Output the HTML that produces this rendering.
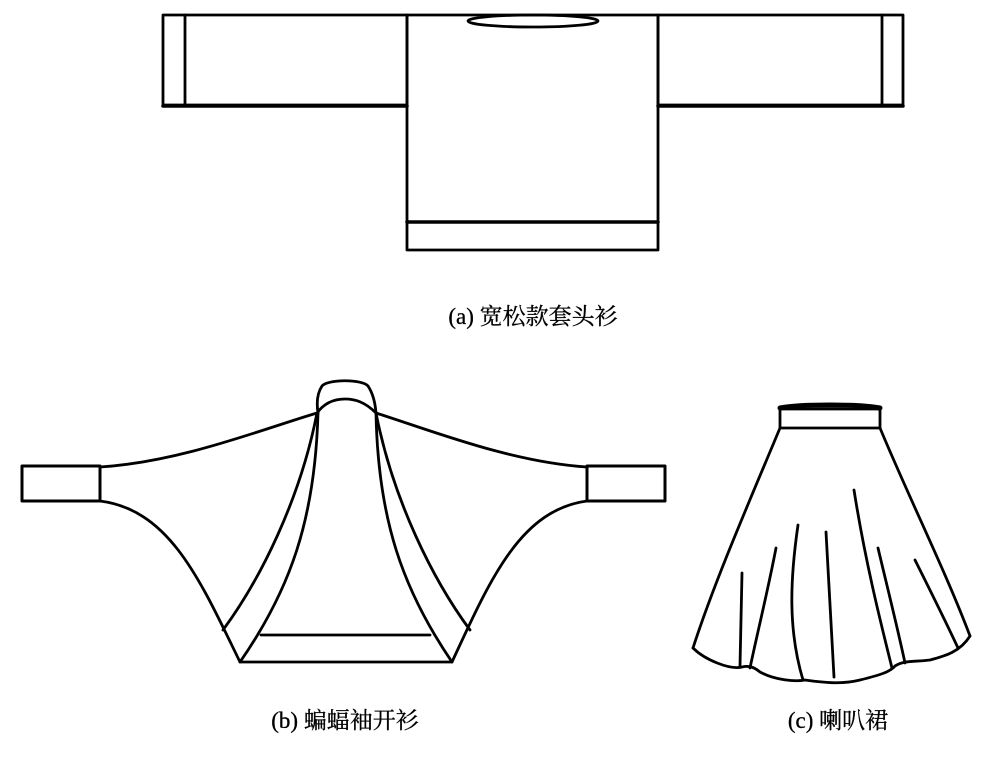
<!DOCTYPE html>
<html><head><meta charset="utf-8"><style>
html,body{margin:0;padding:0;background:#fff;}
svg{display:block}
text{font-family:"Liberation Serif","Noto Serif CJK SC",serif;font-size:23px;fill:#000;stroke:#000;stroke-width:0.3}
</style></head><body>
<svg width="1000" height="758" viewBox="0 0 1000 758" fill="none" stroke="#000" stroke-width="2.8" stroke-linejoin="round" stroke-linecap="round">
<!-- (a) pullover -->
<rect x="163" y="15" width="244" height="90"/>
<line x1="185" y1="15" x2="185" y2="105"/>
<rect x="407" y="15" width="251" height="235"/>
<line x1="407" y1="222" x2="658" y2="222" stroke-width="3.5"/>
<rect x="658" y="15" width="245" height="90"/>
<line x1="882" y1="15" x2="882" y2="105"/>
<line x1="163" y1="106" x2="407" y2="106" stroke-width="3.5"/>
<line x1="658" y1="106" x2="903" y2="106" stroke-width="3.5"/>
<ellipse cx="533" cy="21" rx="65" ry="6"/>
<text x="533" y="324" text-anchor="middle">(a) 宽松款套头衫</text>

<!-- (b) bat sleeve cardigan -->
<rect x="22" y="466" width="78" height="35" stroke-width="3"/>
<rect x="587" y="466" width="78" height="35" stroke-width="3"/>
<path d="M100,467 C180,462 260,430 317,413 C325,402 335,399 345,399 C355,399 365,402 376,413 C430,430 510,462 587,467"/>
<path d="M318,413 C316,400 318,392 322,386 C328,379 362,379 368,386 C372,392 375,400 376,413"/>
<path d="M100,501 C170,510 200,580 240,662 L452,662 C490,580 520,510 587,501"/>
<path d="M317,413 C300,500 260,580 223,630"/>
<path d="M376,413 C393,500 433,580 470,630"/>
<path d="M318,413 C315,520 290,590 240,662"/>
<path d="M376,413 C378,520 403,590 452,662"/>
<line x1="261" y1="635" x2="430" y2="635"/>
<text x="345" y="728" text-anchor="middle">(b) 蝙蝠袖开衫</text>

<!-- (c) flared skirt -->
<rect x="780" y="409" width="100" height="19"/>
<path d="M780,408 C800,404 860,404 880,408" stroke-width="5"/>
<path d="M780,428 C750,500 715,580 693,648"/>
<path d="M880,428 C910,500 945,570 970,636"/>
<path d="M693,648 C705,660 730,670 742,667 C750,665 755,668 760,672 C775,680 795,682 805,680 C820,682 840,685 860,680 C880,675 890,672 895,666 C905,660 915,662 930,660 C945,656 960,652 970,636"/>
<path d="M742,573 L740,666"/>
<path d="M776,548 C768,590 758,630 750,668"/>
<path d="M798,525 C790,580 788,630 803,680"/>
<path d="M826,532 L834,677"/>
<path d="M854,490 C865,560 880,620 892,668"/>
<path d="M878,548 C888,590 898,630 905,663"/>
<path d="M915,560 C930,590 945,620 958,648"/>
<text x="838" y="728" text-anchor="middle">(c) 喇叭裙</text>
</svg>
</body></html>
